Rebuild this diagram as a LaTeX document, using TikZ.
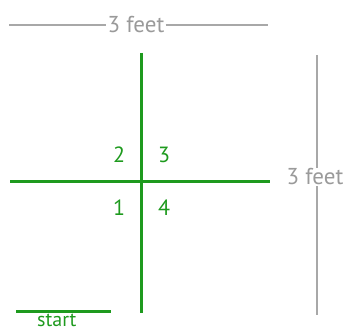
\documentclass[tikz,border=0pt]{standalone}
\usepackage{fontspec}
\setmainfont{PT Sans}
\usepackage{tikz}
\usetikzlibrary{positioning, calc}
\definecolor{verdeCruz}{HTML}{1E9A1E}
\definecolor{grisCota}{HTML}{A8A8A8}
\definecolor{grisTexto}{HTML}{9A9A9A}

\begin{document}
\begin{tikzpicture}[x=1pt, y=1pt,
        cruz/.style={draw=verdeCruz, line width=3pt},
        cota/.style={draw=grisCota, line width=1.4pt},
        num/.style={text=verdeCruz, font=\fontsize{22}{24}\selectfont, inner sep=0pt},
        cotatxt/.style={text=grisTexto, font=\fontsize{23}{25}\selectfont, inner sep=1pt}
    ]
        \useasboundingbox (0,0) rectangle (345,332);

        % cruz
        \coordinate (arriba) at (141,279);
        \coordinate (abajo) at (141,19);
        \coordinate (izq) at (10,150);
        \coordinate (der) at (270,150);
        \draw[cruz] (arriba) -- (abajo);
        \draw[cruz] (izq) -- (der);

        \node[num] (c2) at (119,177) {2};
        \node[num] (c3) at (164,177) {3};
        \node[num] (c1) at (119,124) {1};
        \node[num] (c4) at (164,124) {4};

        % cota superior
        \coordinate (supIzq) at (9,307);
        \coordinate (supDer) at (268,307);
        \node[cotatxt] (supTxt) at (136,307) {3 feet};
        \draw[cota] (supIzq) -- (supTxt);
        \draw[cota] (supTxt) -- (supDer);

        % cota lateral
        \coordinate (latArr) at (317,277);
        \coordinate (latAba) at (317,17);
        \node[cotatxt] (latTxt) at (315,155) {3 feet};
        \draw[cota] (latArr) -- (latTxt.north -| latArr);
        \draw[cota] (latTxt.south -| latAba) -- (latAba);

        % inicio
        \coordinate (iniIzq) at (16,21);
        \coordinate (iniDer) at (111,21);
        \draw[cruz] (iniIzq) -- (iniDer);
        \node[num, font=\fontsize{20}{22}\selectfont, below=2.5pt of iniIzq, anchor=north west, xshift=21pt] (ini) {start};
    \end{tikzpicture}
\end{document}
